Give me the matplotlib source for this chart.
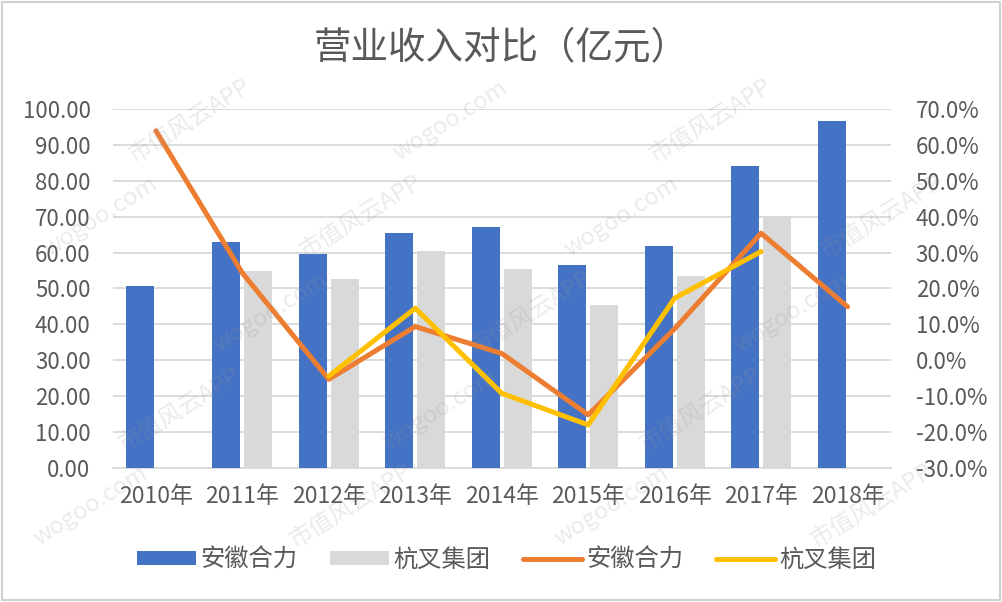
import matplotlib
matplotlib.use("Agg")
import matplotlib.pyplot as plt
import numpy as np
from matplotlib.patches import Rectangle

plt.rcParams['font.family'] = ['Noto Sans CJK SC', 'DejaVu Sans']

years = ['2010年', '2011年', '2012年', '2013年', '2014年', '2015年', '2016年', '2017年', '2018年']
heli_rev = [50.6, 62.9, 59.5, 65.5, 67.0, 56.6, 61.7, 84.0, 96.7]
hangcha_rev = [np.nan, 55.0, 52.7, 60.5, 55.4, 45.3, 53.4, 70.1, np.nan]
heli_growth = [63.9, 24.3, -5.3, 9.4, 1.9, -15.2, 8.8, 35.4, 14.9]
hangcha_growth = [np.nan, np.nan, -4.4, 14.5, -9.2, -18.0, 17.3, 30.3, np.nan]

blue = '#4472C4'
gray = '#D9D9D9'
orange = '#ED7D31'
yellow = '#FFC000'
txt = '#595959'

fig = plt.figure(figsize=(10.02, 6.02), dpi=100)
ax = fig.add_axes([0.1125, 0.2226, 0.7765, 0.5964])
ax2 = ax.twinx()

x = np.arange(len(years))
w = 0.324
gap = 0.046
ax.bar(x - (w + gap) / 2, heli_rev, w, color=blue, zorder=3, label='安徽合力')
ax.bar(x + (w + gap) / 2, hangcha_rev, w, color=gray, zorder=3, label='杭叉集团')
ax.set_ylim(0, 100)
ax.set_yticks(np.arange(0, 101, 10))
ax.set_yticklabels([f'{v:.2f}' for v in np.arange(0, 101, 10)])
ax.set_xlim(-0.5, len(years) - 0.5)
ax.set_xticks(x)
ax.set_xticklabels(years)
ax.grid(axis='y', color='#D9D9D9', linewidth=1.3, zorder=0)
ax.set_axisbelow(True)
for s in ['top', 'left', 'right']:
    ax.spines[s].set_visible(False)
ax.spines['bottom'].set_color('#D9D9D9')
ax.spines['bottom'].set_linewidth(1.3)
ax.tick_params(axis='y', length=0, colors=txt, labelsize=16, pad=16)
ax.tick_params(axis='x', length=0, colors=txt, labelsize=16.5, pad=12)

l1, = ax2.plot(x, heli_growth, color=orange, linewidth=3.6, solid_capstyle='round', zorder=4, label='安徽合力')
l2, = ax2.plot(x, hangcha_growth, color=yellow, linewidth=3.6, solid_capstyle='round', zorder=5, label='杭叉集团')
ax2.set_ylim(-30, 70)
ax2.set_yticks(np.arange(-30, 71, 10))
ax2.set_yticklabels([f'{v:.1f}%' for v in np.arange(-30, 71, 10)])
for s in ['top', 'left', 'right', 'bottom']:
    ax2.spines[s].set_visible(False)
ax2.tick_params(axis='y', length=0, colors=txt, labelsize=16, pad=18)

fig.text(0.5, 0.92, '营业收入对比（亿元）', ha='center', va='center', fontsize=27, color=txt)

h1, lb1 = ax.get_legend_handles_labels()
fig.legend(h1 + [l1, l2], lb1 + ['安徽合力', '杭叉集团'], loc='center', bbox_to_anchor=(0.506, 0.07),
           ncol=4, frameon=False, fontsize=17.5, labelcolor=txt, handlelength=2.4,
           handleheight=0.5, handletextpad=0.2, columnspacing=1.35)

# watermark (kept inside the figure)
wm_color = '#9a9a9a'
for i in range(-3, 10):
    for j in range(-2, 8):
        xx = i * 0.26 + j * 0.09
        yy = j * 0.16
        if not (0.07 < xx < 0.93 and 0.1 < yy < 0.9):
            continue
        t = '市值风云APP' if (i + j) % 2 == 0 else 'wogoo.com'
        fig.text(xx, yy, t, rotation=32, fontsize=17, color=wm_color, alpha=0.2,
                 ha='center', va='center', zorder=10)

fig.patches.append(Rectangle((0.002, 0.003), 0.996, 0.994, transform=fig.transFigure,
                             fill=False, edgecolor='#D0D0D0', linewidth=1.5))

fig.savefig('out.png', dpi=100)
